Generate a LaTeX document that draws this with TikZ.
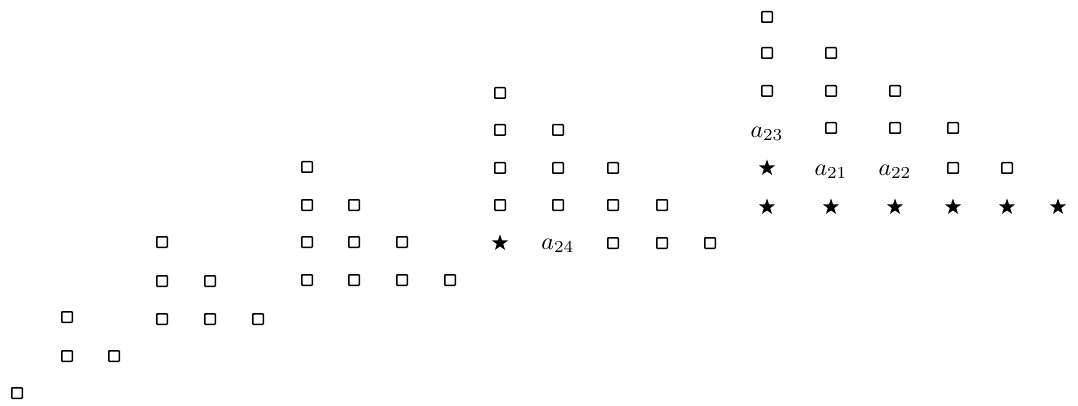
\documentclass[tikz,border=0pt]{standalone}
\usepackage{graphicx}
\usetikzlibrary{shapes.geometric}
\newcommand{\biglab}[1]{\scalebox{2.4}{$#1$}}
\begin{document}
\begin{tikzpicture}[x=1pt,y=-1pt,
  sq/.style={draw, line width=1.5pt, minimum size=10.5pt, inner sep=0pt, rounded corners=0.6pt},
  st/.style={star, star points=5, star point ratio=2.5, fill=black, draw=none, minimum size=17pt, inner sep=0pt},
  lab/.style={inner sep=0pt}]
\useasboundingbox (0,0) rectangle (1078,406);
% group 1
\node[sq] (g1-1) at (17,393) {};
% group 2
\foreach \x/\y [count=\i] in {67/317, 67/356, 114/356}
  \node[sq] (g2-\i) at (\x,\y) {};
% group 3
\foreach \x/\y [count=\i] in {162/242, 162/281, 210/281, 162/319, 210/319, 258/319}
  \node[sq] (g3-\i) at (\x,\y) {};
% group 4
\foreach \x/\y [count=\i] in {307/167, 307/205, 354/205, 307/242, 354/242, 402/242, 307/280, 354/280, 402/280, 450/280}
  \node[sq] (g4-\i) at (\x,\y) {};
% group 5
\foreach \x/\y [count=\i] in {500/93, 500/130, 558/130, 500/168, 558/168, 613/168, 500/205, 558/205, 613/205, 662/205, 613/243, 662/243, 710/243}
  \node[sq] (g5-\i) at (\x,\y) {};
\node[st] (g5-star) at (500,243) {};
\node[lab] (a24) at (558,246) {\biglab{a_{24}}};
% group 6
\foreach \x/\y [count=\i] in {767/17, 767/53, 831/53, 767/91, 831/91, 895/91, 831/128, 895/128, 953/128, 953/168, 1007/168}
  \node[sq] (g6-\i) at (\x,\y) {};
\node[lab] (a23) at (767,134) {\biglab{a_{23}}};
\node[lab] (a21) at (831,172) {\biglab{a_{21}}};
\node[lab] (a22) at (895,172) {\biglab{a_{22}}};
\node[st] (g6-s0) at (767,168) {};
\foreach \x [count=\i] in {767, 831, 895, 953, 1007, 1058}
  \node[st] (g6-s\i) at (\x,207) {};
\end{tikzpicture}
\end{document}
